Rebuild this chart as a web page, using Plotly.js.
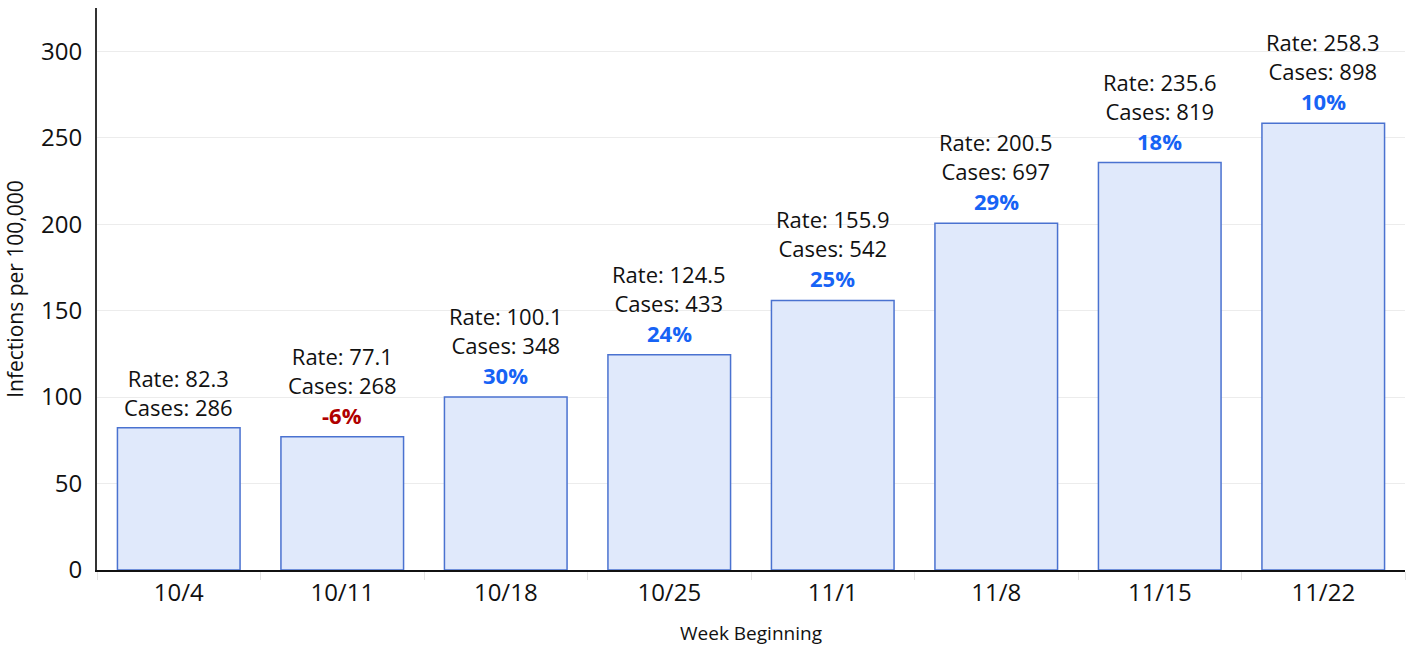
<!DOCTYPE html>
<html><head><meta charset="utf-8">
<script src="https://cdn.plot.ly/plotly-3.0.1.min.js"></script>
<style>html,body{margin:0;padding:0;background:#fff}#chart{width:1412px;height:646px}</style>
</head><body><div id="chart"></div>
<script>
const weeks = ["10/4","10/11","10/18","10/25","11/1","11/8","11/15","11/22"];
const rates = [82.3, 77.1, 100.1, 124.5, 155.9, 200.5, 235.6, 258.3];
const cases = [286, 268, 348, 433, 542, 697, 819, 898];
const changes = [null, -6, 30, 24, 25, 29, 18, 10];

const FONT = "Open Sans, Noto Sans, sans-serif";
const annotations = [];
weeks.forEach((w, i) => {
  const hasPct = changes[i] !== null;
  annotations.push({
    x: w, y: rates[i], xref: 'x', yref: 'y',
    text: 'Rate: ' + rates[i].toFixed(1) + '<br>Cases: ' + cases[i],
    showarrow: false, yanchor: 'bottom', yshift: hasPct ? 35 : 4,
    font: {family: FONT, size: 22, color: '#111'}
  });
  if (hasPct) {
    annotations.push({
      x: w, y: rates[i], xref: 'x', yref: 'y',
      text: '<b>' + changes[i] + '%</b>',
      showarrow: false, yanchor: 'bottom', yshift: 5,
      font: {family: FONT, size: 22, color: changes[i] < 0 ? '#b00000' : '#1763f5'}
    });
  }
});

const data = [{
  type: 'bar', x: weeks, y: rates,
  marker: {color: '#e0e9fb', line: {color: '#4a72d0', width: 1.5}},
  hoverinfo: 'none'
}];

const layout = {
  width: 1412, height: 646,
  margin: {l: 97, r: 7, t: 8, b: 76},
  paper_bgcolor: '#fff', plot_bgcolor: '#fff',
  bargap: 0.25,
  showlegend: false,
  font: {family: FONT, color: '#111'},
  xaxis: {
    type: 'category',
    showline: true, linecolor: '#111', linewidth: 2,
    ticks: 'outside', tickson: 'boundaries', ticklen: 8, tickcolor: '#e4e4e4', tickwidth: 1,
    tickfont: {size: 24, family: FONT, color: '#111'},
    title: {text: 'Week Beginning', font: {size: 19, family: FONT, color: '#111'}, standoff: 20},
    showgrid: false, zeroline: false
  },
  yaxis: {
    range: [0, 325],
    tickvals: [0, 50, 100, 150, 200, 250, 300],
    showline: true, linecolor: '#333', linewidth: 2,
    showgrid: true, gridcolor: '#ececec', gridwidth: 1,
    zeroline: false, ticks: '', ticklabelstandoff: 8,
    tickfont: {size: 24, family: FONT, color: '#111'},
    title: {text: 'Infections per 100,000', font: {size: 21, family: FONT, color: '#111'}, standoff: 12}
  },
  annotations: annotations
};
Plotly.newPlot('chart', data, layout, {displayModeBar: false, staticPlot: true});
</script></body></html>
